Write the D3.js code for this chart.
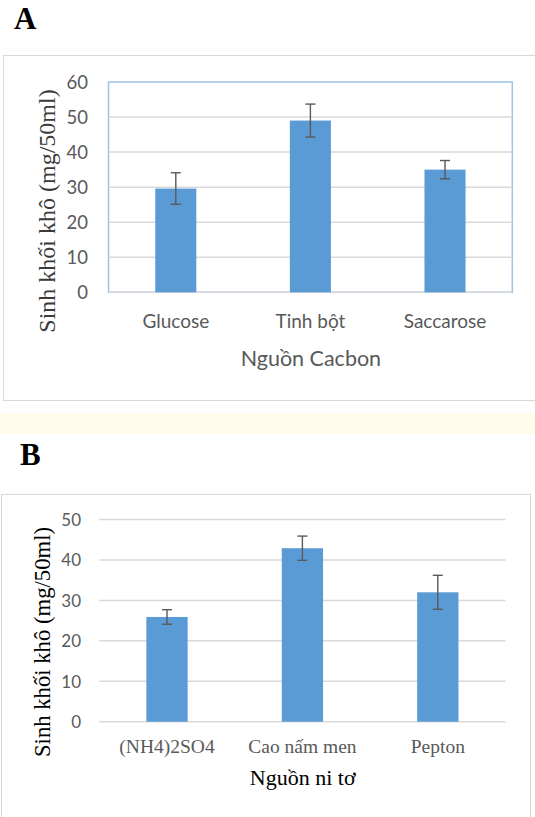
<!DOCTYPE html>
<html>
<head>
<meta charset="utf-8">
<script src="https://cdn.jsdelivr.net/npm/d3@7"></script>
<style>
  html, body { margin: 0; padding: 0; background: #ffffff; }
  svg { display: block; }
</style>
</head>
<body>
<svg id="chart" width="535" height="817"></svg>
<script>
// ---- Data ----
const catsA = ["Glucose", "Tinh bột", "Saccarose"];
const valsA = [29.6, 49.0, 35.0];
const errA  = [4.5, 4.7, 2.6];
const ticksA = [0, 10, 20, 30, 40, 50, 60];

const catsB = ["(NH4)2SO4", "Cao nấm men", "Pepton"];
const valsB = [25.9, 42.9, 32.0];
const errB  = [1.8, 3.0, 4.2];
const ticksB = [0, 10, 20, 30, 40, 50];

const svg = d3.select("#chart");
const BAR = "#5b9bd5", GRID = "#d9d9d9", TXT = "#595959", ERR = "#595959";
const SANS = "Lato, 'Open Sans', sans-serif";
const SERIF = "'Liberation Serif', 'DejaVu Serif', serif";

// background pieces
svg.append("rect").attr("x", 0).attr("y", 413).attr("width", 535).attr("height", 21).attr("fill", "#fffcec");
// panel A frame
svg.append("rect").attr("x", 3.5).attr("y", 55.5).attr("width", 540).attr("height", 345)
  .attr("fill", "none").attr("stroke", GRID).attr("stroke-width", 1);
// panel B frame
svg.append("rect").attr("x", 1.5).attr("y", 494.5).attr("width", 529).attr("height", 340)
  .attr("fill", "none").attr("stroke", GRID).attr("stroke-width", 1);

svg.append("text").attr("x", 14).attr("y", 29).text("A")
  .attr("font-family", SERIF).attr("font-weight", "bold").attr("font-size", 31).attr("fill", "#000");
svg.append("text").attr("x", 20).attr("y", 465).text("B")
  .attr("font-family", SERIF).attr("font-weight", "bold").attr("font-size", 31).attr("fill", "#000");

function drawChart(cfg) {
  const g = svg.append("g");
  const x = d3.scaleBand().domain(cfg.cats).range([cfg.x0, cfg.x1])
    .paddingInner(0.695).paddingOuter(0.3475);
  const y = d3.scaleLinear().domain([0, cfg.ymax]).range([cfg.y0, cfg.y1]);

  if (cfg.border) {
    g.append("rect").attr("x", cfg.x0).attr("y", y(cfg.ymax))
      .attr("width", cfg.x1 - cfg.x0).attr("height", y(0) - y(cfg.ymax))
      .attr("fill", "none").attr("stroke", "#9dc3e6").attr("stroke-width", 1.5);
  }
  // gridlines
  const gridTicks = cfg.border ? cfg.ticks.filter(t => t < cfg.ymax) : cfg.ticks;
  g.selectAll("line.grid").data(gridTicks).join("line")
    .attr("x1", cfg.x0).attr("x2", cfg.x1)
    .attr("y1", d => y(d)).attr("y2", d => y(d))
    .attr("stroke", GRID).attr("stroke-width", 1.5);

  // y axis labels via d3 axis
  const ay = g.append("g").attr("transform", `translate(${cfg.labX},0)`)
    .call(d3.axisLeft(y).tickValues(cfg.ticks).tickSize(0).tickPadding(0));
  ay.select(".domain").remove();
  ay.selectAll("text").attr("font-family", SANS).attr("font-size", cfg.tickSize)
    .attr("fill", TXT).attr("dy", "0.34em");

  // bars
  g.selectAll("rect.bar").data(cfg.vals).join("rect")
    .attr("x", (d, i) => x(cfg.cats[i])).attr("width", x.bandwidth())
    .attr("y", d => y(d)).attr("height", d => y(0) - y(d))
    .attr("fill", BAR);

  // error bars
  cfg.vals.forEach((v, i) => {
    const cx = x(cfg.cats[i]) + x.bandwidth() / 2;
    const e = cfg.errs[i];
    g.append("line").attr("x1", cx).attr("x2", cx).attr("y1", y(v + e)).attr("y2", y(v - e))
      .attr("stroke", ERR).attr("stroke-width", 1.4);
    [v + e, v - e].forEach(t => {
      g.append("line").attr("x1", cx - 5).attr("x2", cx + 5).attr("y1", y(t)).attr("y2", y(t))
        .attr("stroke", ERR).attr("stroke-width", 1.4);
    });
  });

  // x axis labels via d3 axis
  const ax = g.append("g").attr("transform", `translate(0,${cfg.catY})`)
    .call(d3.axisBottom(x).tickSize(0).tickPadding(0));
  ax.select(".domain").remove();
  ax.selectAll("text").attr("font-family", cfg.catFont).attr("font-size", cfg.catSize)
    .attr("fill", TXT).attr("dy", 0);

  // axis titles
  g.append("text").attr("x", (cfg.x0 + cfg.x1) / 2 + cfg.xtOff).attr("y", cfg.xtY)
    .attr("text-anchor", "middle").text(cfg.xTitle)
    .attr("font-family", cfg.xtFont).attr("font-size", cfg.xtSize).attr("fill", cfg.xtColor);
  g.append("text").attr("transform", `translate(${cfg.ytX},${cfg.ytY}) rotate(-90)`)
    .attr("text-anchor", "middle").text("Sinh khối khô (mg/50ml)")
    .attr("font-family", SERIF).attr("font-size", cfg.ytSize).attr("fill", cfg.ytColor);
}

drawChart({
  cats: catsA, vals: valsA, errs: errA, ticks: ticksA, ymax: 60,
  x0: 108.5, x1: 512.3, y0: 292.3, y1: 82, border: true,
  labX: 88, tickSize: 18.5,
  catY: 328, catFont: SANS, catSize: 19,
  xTitle: "Nguồn Cacbon", xtY: 366, xtOff: 0.5, xtFont: SANS, xtSize: 21.5, xtColor: TXT,
  ytX: 55, ytY: 211, ytSize: 24, ytColor: "#3a3a3a"
});

drawChart({
  cats: catsB, vals: valsB, errs: errB, ticks: ticksB, ymax: 50,
  x0: 99.3, x1: 505.5, y0: 721.7, y1: 519.5, border: false,
  labX: 81, tickSize: 17,
  catY: 753, catFont: SERIF, catSize: 19.5,
  xTitle: "Nguồn ni tơ", xtY: 785, xtOff: 0.3, xtFont: SERIF, xtSize: 22, xtColor: "#000",
  ytX: 49.5, ytY: 642, ytSize: 22.7, ytColor: "#000"
});
</script>
</body>
</html>
